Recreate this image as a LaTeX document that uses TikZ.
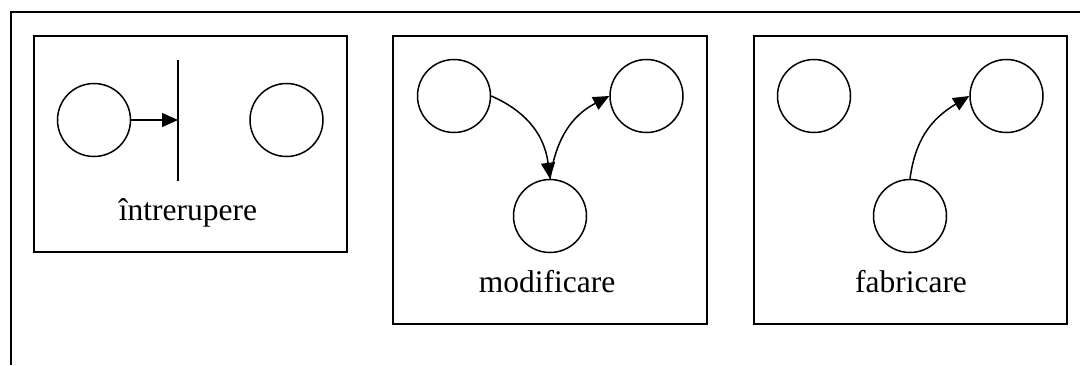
\documentclass[tikz,border=0pt]{standalone}
\usepackage{fontspec}
\setmainfont{Liberation Serif}
\usetikzlibrary{arrows.meta}
\begin{document}
\begin{tikzpicture}[x=1pt,y=-1pt,
  frame/.style={draw, line width=2pt, inner sep=0pt},
  state/.style={draw, circle, line width=1.5pt, minimum size=73pt, inner sep=0pt},
  lbl/.style={font=\fontsize{31.5}{36}\selectfont, anchor=base, inner sep=0pt},
  arr/.style={line width=1.5pt, -{Triangle[length=16pt 0 0,width=14pt 0 0]}},
  bar/.style={line width=1.5pt}]
\useasboundingbox (0,0) rectangle (1080,365);
% outer frame (cropped at right and bottom)
\coordinate (oTL) at (11,12);
\coordinate (oTR) at (1080,12);
\coordinate (oBL) at (11,365);
\draw[line width=2pt] (oTR) -- (oTL) -- (oBL);
% boxes
\node[frame, minimum width=313pt, minimum height=216pt] (b1) at (190.5,144) {};
\node[frame, minimum width=314pt, minimum height=288pt] (b2) at (550,180) {};
\node[frame, minimum width=313pt, minimum height=288pt] (b3) at (910.5,180) {};
% panel 1: intrerupere
\node[state] (i1) at (94,120) {};
\node[state] (i2) at (286.5,120) {};
\coordinate (barT) at (178,60);
\coordinate (barB) at (178,181);
\coordinate (barM) at (178,120);
\draw[bar] (barT) -- (barB);
\draw[arr] (i1.east) -- (barM);
\node[lbl] (t1) at (188,220) {întrerupere};
% panel 2: modificare
\node[state] (m1) at (454,96) {};
\node[state] (m2) at (646.5,96) {};
\node[state] (m3) at (550,216) {};
\draw[arr] (m1.east) .. controls +(30,13) and +(-6,-48) .. (m3.north);
\draw[arr] (m3.north) .. controls +(6,-40) and +(-38,20) .. (m2.west);
\node[lbl] (t2) at (547,292) {modificare};
% panel 3: fabricare
\node[state] (f1) at (814,96) {};
\node[state] (f2) at (1006.5,96) {};
\node[state] (f3) at (910,216) {};
\draw[arr] (f3.north) .. controls +(5,-37) and +(-40,24) .. (f2.west);
\node[lbl] (t3) at (911,292) {fabricare};
\end{tikzpicture}
\end{document}
